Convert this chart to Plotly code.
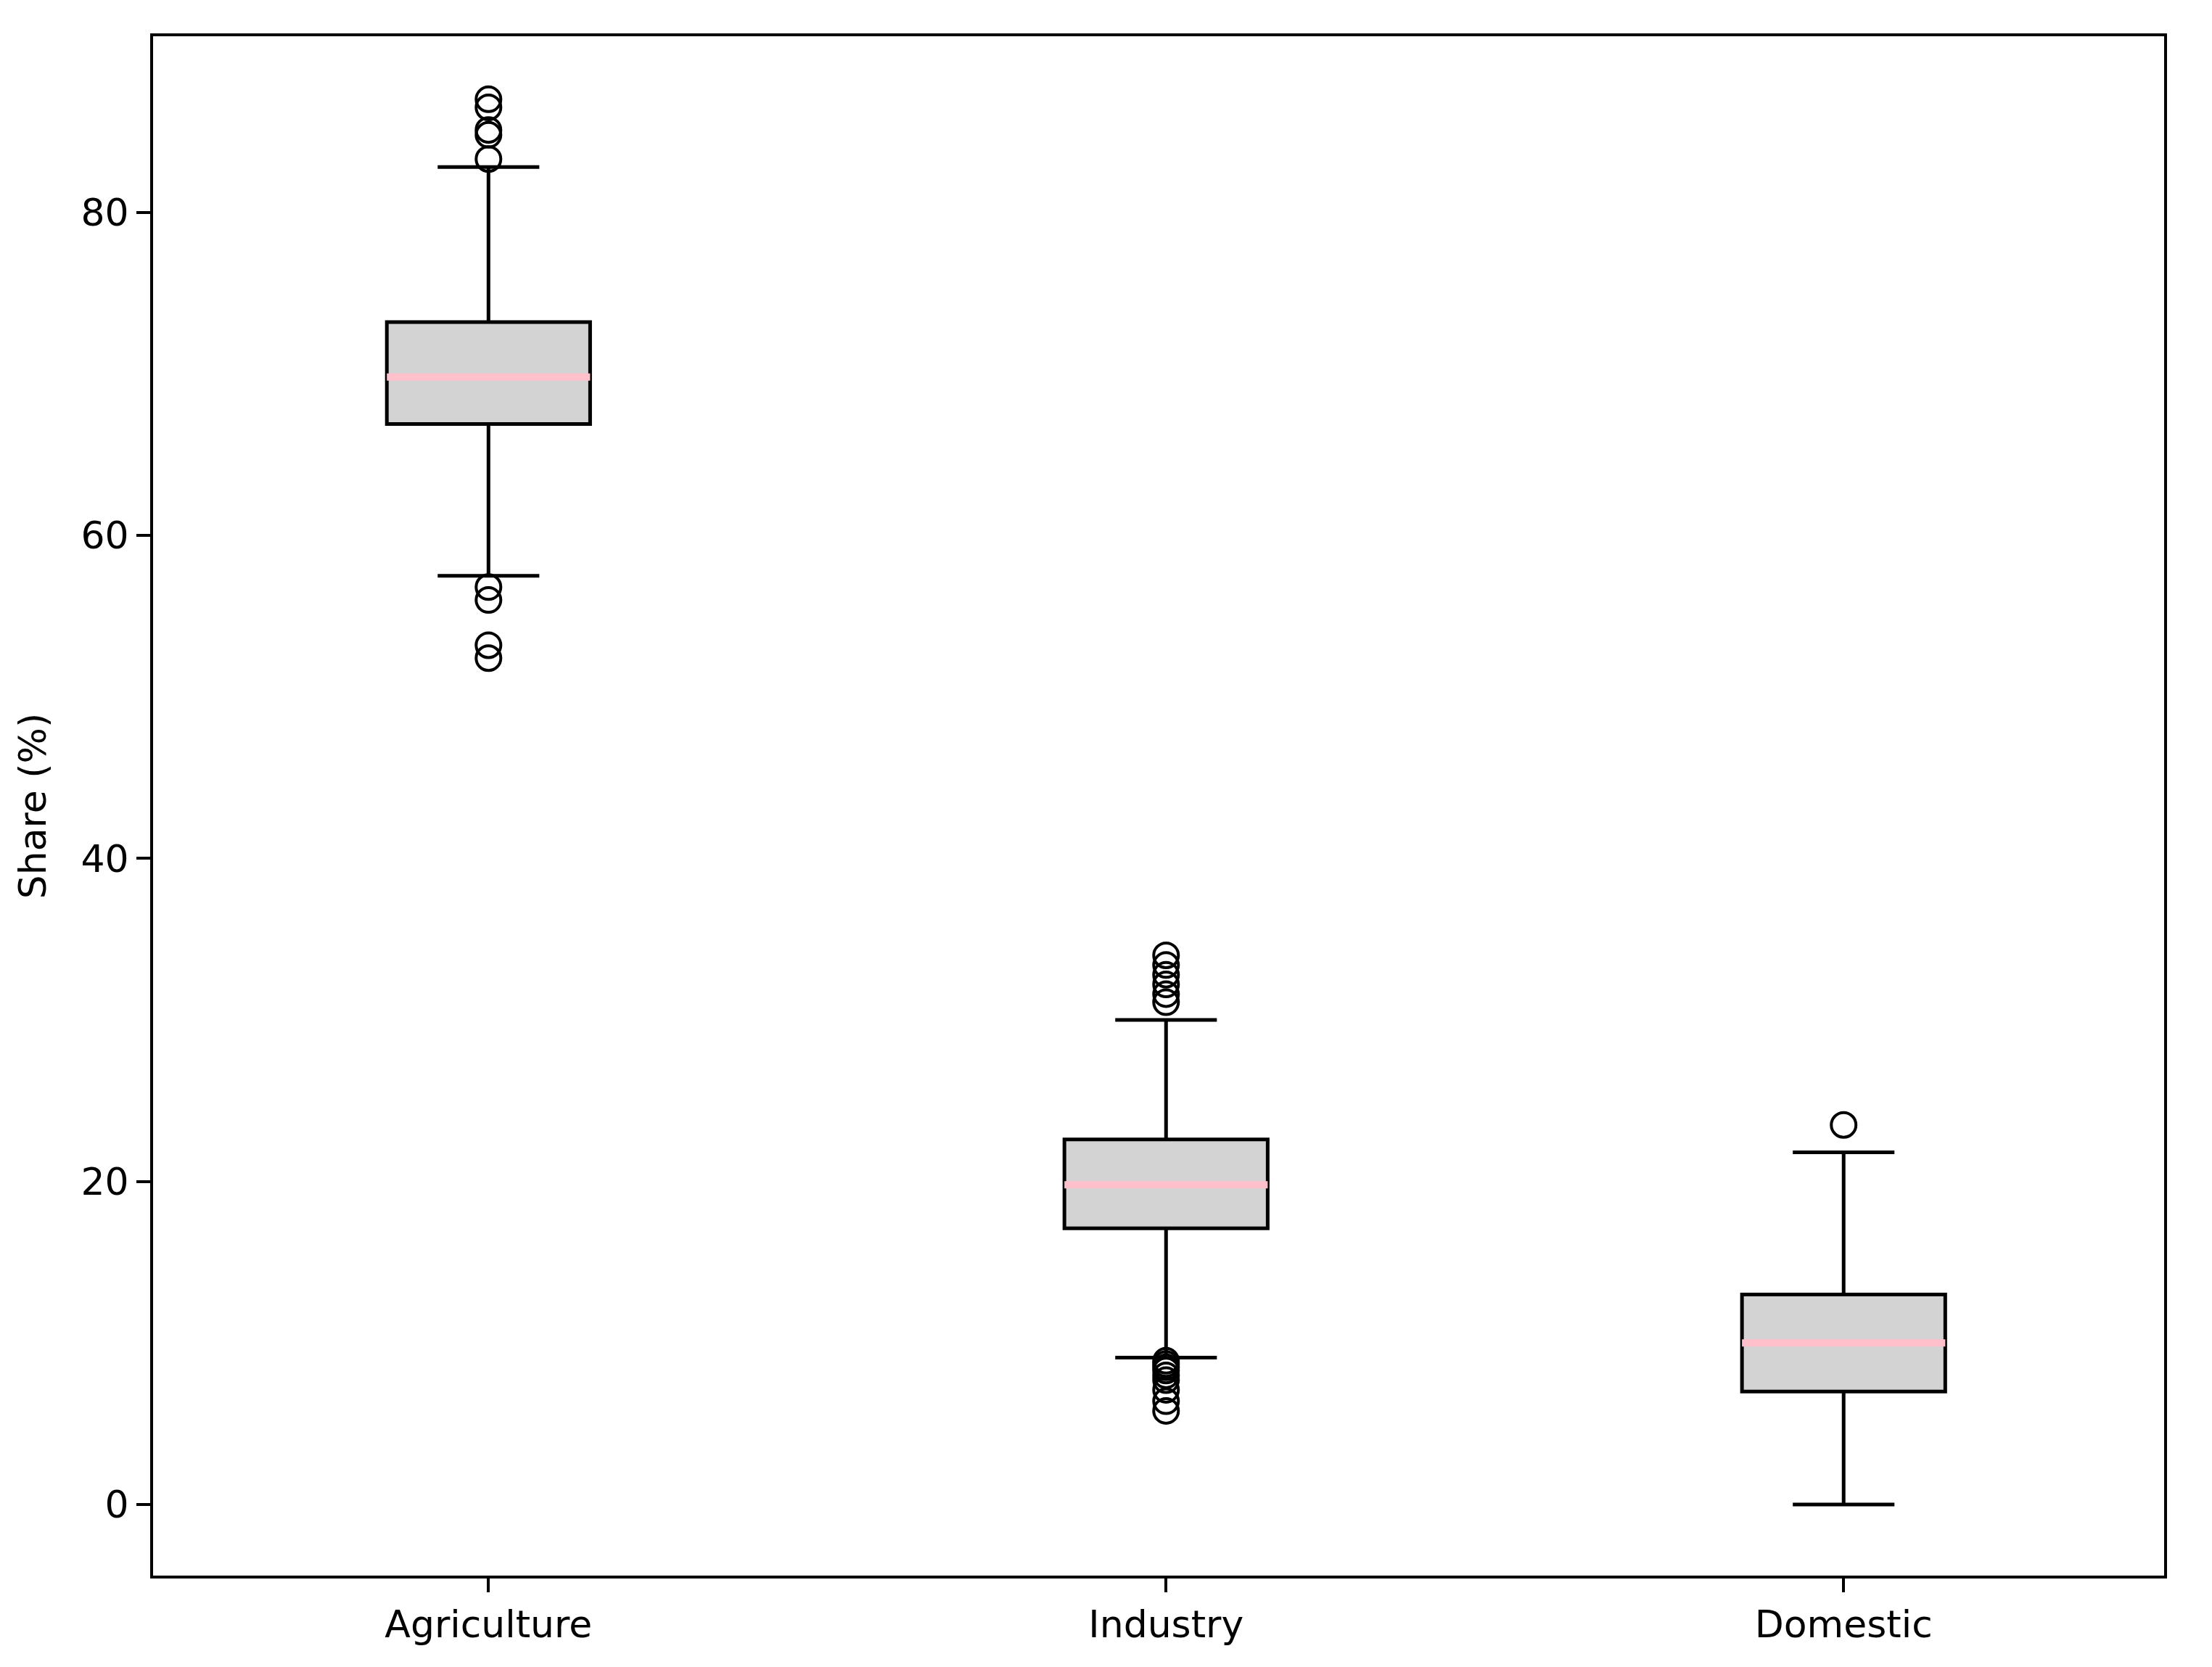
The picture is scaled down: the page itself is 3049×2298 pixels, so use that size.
import plotly.graph_objects as go

# box statistics
categories = ["Agriculture", "Industry", "Domestic"]
positions = [1, 2, 3]
q1 = [66.9, 17.1, 7.0]
median = [69.8, 19.8, 10.0]
q3 = [73.2, 22.6, 13.0]
lower_fence = [57.5, 9.1, 0.0]
upper_fence = [82.8, 30.0, 21.8]

agriculture_outliers = [87.0, 86.5, 85.1, 84.8, 83.3, 56.8, 56.0, 53.2, 52.4]
industry_outliers = [34.0, 33.4, 32.8, 32.2, 31.6, 31.1,
                     8.9, 8.7, 8.5, 8.3, 8.0, 7.7, 7.1, 6.4, 5.8]
domestic_outliers = [23.5]

box_width = 0.3
font = dict(family="DejaVu Sans", size=52, color="black")

box = go.Box(
    x=positions,
    q1=q1,
    median=median,
    q3=q3,
    lowerfence=lower_fence,
    upperfence=upper_fence,
    width=box_width,
    whiskerwidth=0.5,
    fillcolor="lightgray",
    line=dict(color="black", width=5),
    boxpoints=False,
    hoverinfo="skip",
    showlegend=False,
)

# pink median lines on top of the boxes
med_x, med_y = [], []
for p, m in zip(positions, median):
    med_x += [p - box_width / 2, p + box_width / 2, None]
    med_y += [m, m, None]
medians = go.Scatter(
    x=med_x, y=med_y, mode="lines",
    line=dict(color="pink", width=10),
    showlegend=False, hoverinfo="skip",
)

out_x, out_y = [], []
for p, vals in zip(positions, [agriculture_outliers, industry_outliers, domestic_outliers]):
    out_x += [p] * len(vals)
    out_y += vals
outliers = go.Scatter(
    x=out_x, y=out_y, mode="markers",
    marker=dict(symbol="circle-open", size=34, color="black",
                line=dict(color="black", width=4)),
    showlegend=False,
)

axis_common = dict(
    showline=True, mirror=True, linecolor="black", linewidth=4,
    ticks="outside", ticklen=19, tickwidth=4, tickcolor="black",
    showgrid=False, zeroline=False, tickfont=font,
)

layout = go.Layout(
    width=3049,
    height=2298,
    margin=dict(l=203, r=74, t=42, b=134),
    paper_bgcolor="white",
    plot_bgcolor="white",
    font=font,
    xaxis=dict(
        range=[0.505, 3.473],
        tickvals=positions,
        ticktext=categories,
        **axis_common,
    ),
    yaxis=dict(
        range=[-4.4, 90.9],
        tickvals=[0, 20, 40, 60, 80],
        title=dict(text="Share (%)", font=font, standoff=32),
        **axis_common,
    ),
)

fig = go.Figure(data=[box, medians, outliers], layout=layout)
fig.write_html("out.html")
